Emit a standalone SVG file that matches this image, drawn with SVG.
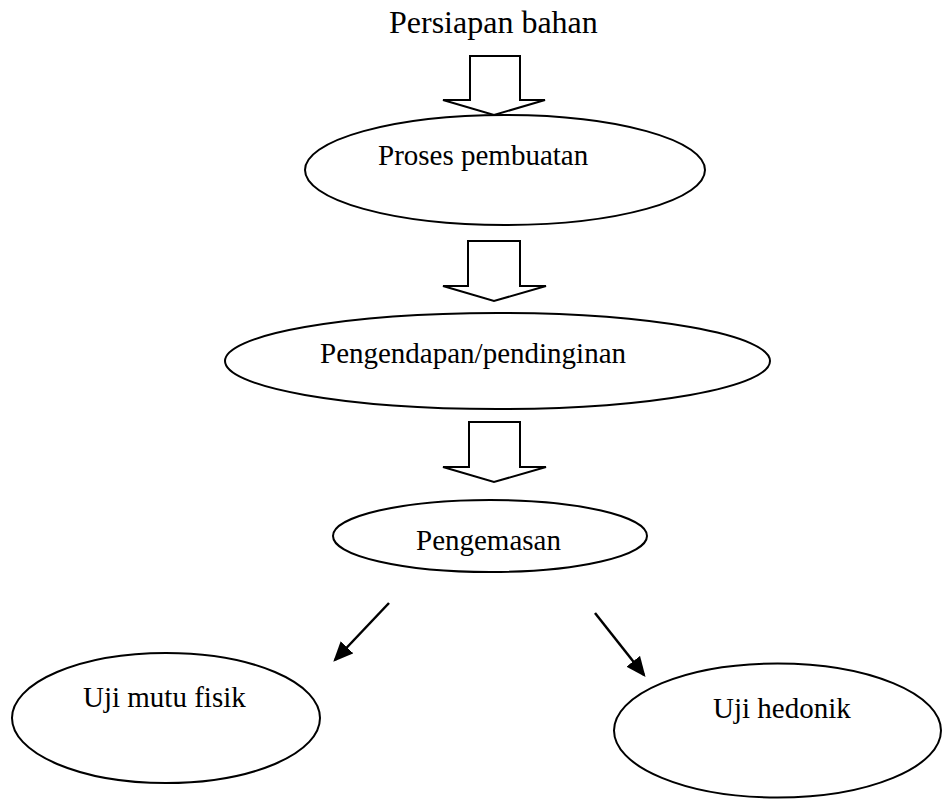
<svg xmlns="http://www.w3.org/2000/svg" width="942" height="799" viewBox="0 0 942 799">
<style>
.n{fill:#fff;stroke:#000;stroke-width:2}
.b{fill:#fff;stroke:#000;stroke-width:2;stroke-linejoin:miter}
.t{font-family:"Liberation Serif","Times New Roman",serif;font-size:29px;fill:#000}
.c{stroke:#000;stroke-width:2.5;fill:none}
</style>
<defs>
<marker id="ah" markerWidth="8" markerHeight="7" refX="7" refY="3.5" orient="auto" markerUnits="strokeWidth">
<path d="M0,0 L8,3.5 L0,7 Z" fill="#000"/>
</marker>
</defs>
<rect width="942" height="799" fill="#fff"/>
<g id="persiapan">
<text class="t" x="389" y="33" style="font-size:32px">Persiapan bahan</text>
</g>
<g id="connectors">
<path class="b" d="M470,56 H520 V100 H545 L494,115 L443,100 H470 Z"/>
<path class="b" d="M468,241 H520 V286 H546 L494,301 L443,286 H468 Z"/>
<path class="b" d="M469,422 H520 V467 H546 L494,482 L443,467 H469 Z"/>
<line class="c" x1="389" y1="603" x2="335" y2="660" marker-end="url(#ah)"/>
<line class="c" x1="595" y1="613" x2="644" y2="675" marker-end="url(#ah)"/>
</g>
<g id="proses">
<ellipse class="n" cx="505" cy="170" rx="200" ry="55"/>
<text class="t" x="378" y="165">Proses pembuatan</text>
</g>
<g id="pengendapan">
<ellipse class="n" cx="497.5" cy="361" rx="272.5" ry="48"/>
<text class="t" x="320" y="363">Pengendapan/pendinginan</text>
</g>
<g id="pengemasan">
<ellipse class="n" cx="490" cy="536" rx="157" ry="36"/>
<text class="t" x="416" y="550">Pengemasan</text>
</g>
<g id="ujimutu">
<ellipse class="n" cx="166" cy="718" rx="154" ry="65"/>
<text class="t" x="83" y="707">Uji mutu fisik</text>
</g>
<g id="ujihedonik">
<ellipse class="n" cx="777.5" cy="730.5" rx="163.5" ry="67"/>
<text class="t" x="713" y="718">Uji hedonik</text>
</g>
</svg>
